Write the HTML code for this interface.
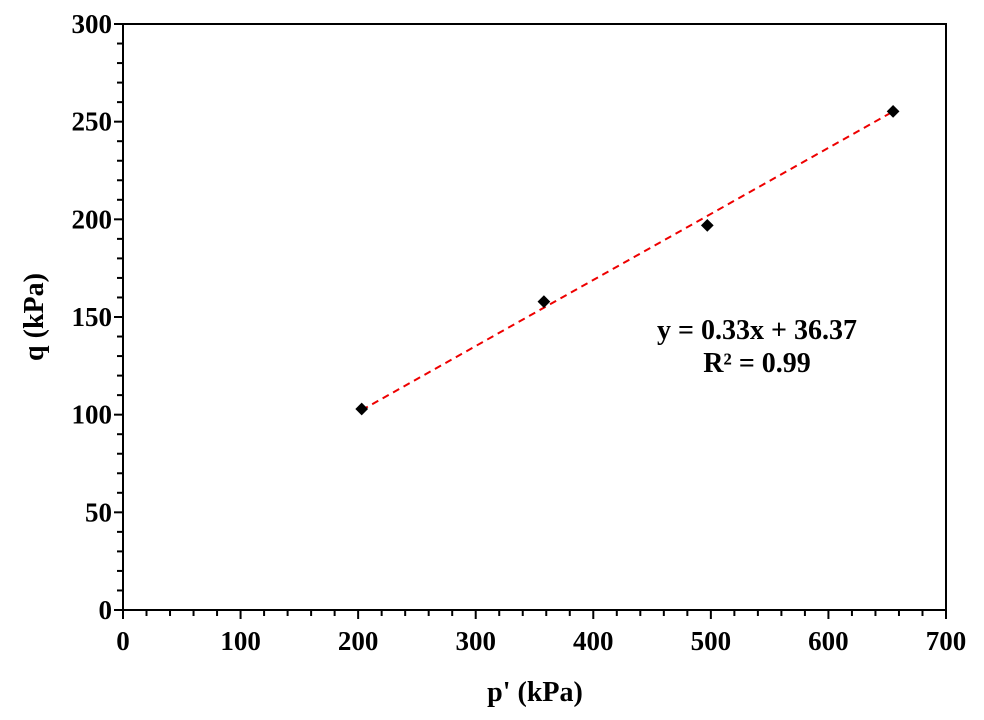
<!DOCTYPE html>
<html><head><style>body{margin:0;background:#fff}svg text{font-family:"Liberation Serif",serif;font-weight:bold;fill:#000}</style></head><body>
<svg width="984" height="715" viewBox="0 0 984 715" xmlns="http://www.w3.org/2000/svg">
<rect x="123" y="24" width="823" height="586" fill="none" stroke="#000" stroke-width="2"/>
<g stroke="#000" stroke-width="2" id="ticks"></g>
<line x1="361.7" y1="410.1" x2="893.3" y2="111.4" stroke="#e00" stroke-width="2" stroke-dasharray="7,5"/>
<g fill="#000">
<rect x="-4.5" y="-4.5" width="9" height="9" transform="translate(361.7,409) rotate(45)"/>
<rect x="-4.5" y="-4.5" width="9" height="9" transform="translate(543.9,301.6) rotate(45)"/>
<rect x="-4.5" y="-4.5" width="9" height="9" transform="translate(707.3,225.4) rotate(45)"/>
<rect x="-4.5" y="-4.5" width="9" height="9" transform="translate(893.1,111.4) rotate(45)"/>
</g>
<g font-size="27" text-anchor="end" id="yl"></g>
<g font-size="27" text-anchor="middle" id="xl"></g>
<text x="535" y="701" font-size="28" text-anchor="middle">p' (kPa)</text>
<text transform="translate(43,317) rotate(-90)" font-size="28" text-anchor="middle">q (kPa)</text>
<text x="757" y="339" font-size="28" text-anchor="middle">y = 0.33x + 36.37</text>
<text x="757" y="372" font-size="28" text-anchor="middle">R² = 0.99</text>
</svg>
<script>
var t=document.getElementById('ticks'),s='';
for(var v=0;v<=700;v+=20){var x=123+v*823/700;var maj=v%100==0;s+='<line x1="'+x+'" y1="610" x2="'+x+'" y2="'+(maj?619:616)+'"/>';}
for(var v=0;v<=300;v+=10){var y=610-v*586/300;var maj=v%50==0;s+='<line x1="'+(maj?114:117)+'" y1="'+y+'" x2="123" y2="'+y+'"/>';}
t.innerHTML=s;
var yl='';for(var v=0;v<=300;v+=50){yl+='<text x="112" y="'+(610-v*586/300+9)+'">'+v+'</text>';}
document.getElementById('yl').innerHTML=yl;
var xl='';for(var v=0;v<=700;v+=100){xl+='<text x="'+(123+v*823/700)+'" y="650">'+v+'</text>';}
document.getElementById('xl').innerHTML=xl;
</script>
</body></html>
